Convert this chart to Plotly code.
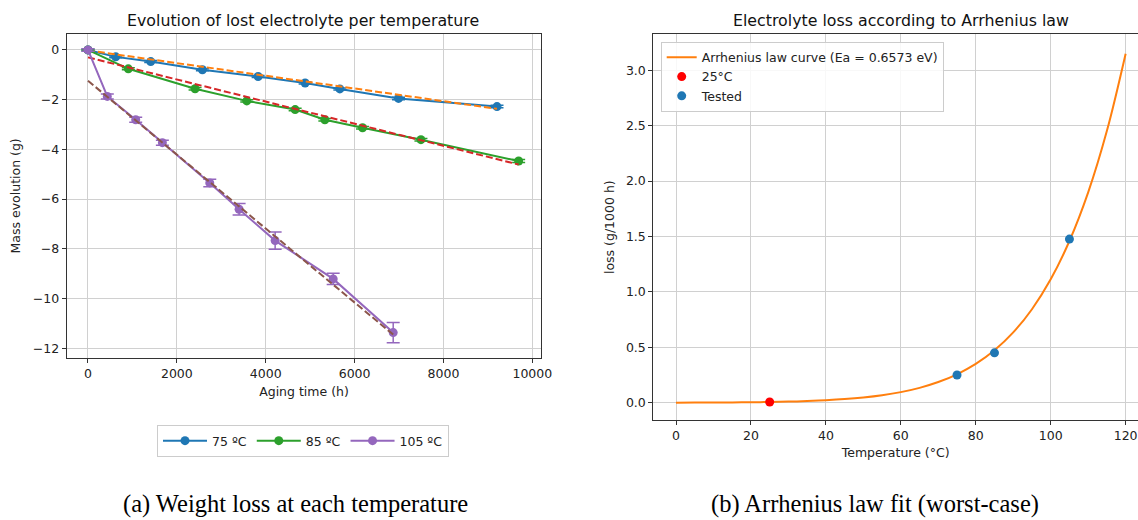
import plotly.graph_objects as go

# ---------------- data: left panel ----------------
time_75 = [0, 624, 1412, 2575, 3829, 4887, 5668, 6989, 9205]
mass_75 = [0.0, -0.28, -0.47, -0.80, -1.07, -1.33, -1.57, -1.95, -2.28]
err_75 = [0.03, 0.04, 0.04, 0.04, 0.04, 0.04, 0.04, 0.05, 0.05]

time_85 = [0, 908, 2410, 3574, 4662, 5331, 6179, 7493, 9692]
mass_85 = [0.0, -0.76, -1.56, -2.05, -2.40, -2.81, -3.13, -3.61, -4.47]
err_85 = [0.03, 0.04, 0.05, 0.05, 0.05, 0.05, 0.05, 0.05, 0.06]

time_105 = [0, 435, 1074, 1674, 2741, 3401, 4212, 5518, 6869]
mass_105 = [0.0, -1.87, -2.81, -3.73, -5.35, -6.41, -7.67, -9.21, -11.37]
err_105 = [0.05, 0.10, 0.10, 0.10, 0.15, 0.23, 0.35, 0.23, 0.41]

fit_75_x = [0, 9205]
fit_75_y = [-0.02, -2.37]
fit_85_x = [0, 9692]
fit_85_y = [-0.30, -4.61]
fit_105_x = [0, 6869]
fit_105_y = [-1.24, -11.45]

series_names = ["75 ºC", "85 ºC", "105 ºC"]
time_ticks = [0, 2000, 4000, 6000, 8000, 10000]
time_tick_labels = ["0", "2000", "4000", "6000", "8000", "10000"]
mass_ticks = [0, -2, -4, -6, -8, -10, -12]

# ---------------- data: right panel ----------------
curve_temp = [0, 5, 10, 15, 20, 25, 30, 35, 40, 45, 50, 55, 60, 65, 70,
              75, 80, 85, 90, 95, 100, 105, 110, 115, 120]
curve_loss = [0.0006, 0.0010, 0.0017, 0.0027, 0.0042, 0.0065, 0.0099, 0.0149,
              0.0222, 0.0325, 0.0471, 0.0675, 0.0957, 0.1342, 0.1865, 0.2566,
              0.3499, 0.4730, 0.6343, 0.8437, 1.1135, 1.4593, 1.8986, 2.4535,
              3.1500]
ref_temp = [25]
ref_loss = [0.0065]
tested_temp = [75, 85, 105]
tested_loss = [0.25, 0.45, 1.477]
tested_err = [0.0, 0.0, 0.0]
temp_ticks = [0, 20, 40, 60, 80, 100, 120]
loss_ticks = [0, 0.5, 1.0, 1.5, 2.0, 2.5, 3.0]

curve_label = "Arrhenius law curve (Ea = 0.6573 eV)"

# ---------------- styling ----------------
BLUE, ORANGE, GREEN, RED, PURPLE, BROWN = (
    "#1f77b4", "#ff7f0e", "#2ca02c", "#d62728", "#9467bd", "#8c564b")
FONT = "DejaVu Sans"
W, H = 1138, 520


def px_x(p):
    return p / W


def px_y(p):
    return 1 - p / H


fig = go.Figure()


def add_err_series(x, y, e, color, name):
    fig.add_trace(go.Scatter(
        x=x, y=y, mode="lines+markers", name=name,
        line=dict(color=color, width=2),
        marker=dict(color=color, size=9),
        error_y=dict(type="data", array=e, visible=True, color=color,
                     thickness=1.5, width=6.5),
        xaxis="x", yaxis="y", legend="legend"))


def add_fit(x, y, color):
    fig.add_trace(go.Scatter(
        x=x, y=y, mode="lines", showlegend=False,
        line=dict(color=color, width=2, dash="7px,3px"),
        xaxis="x", yaxis="y"))


add_err_series(time_75, mass_75, err_75, BLUE, series_names[0])
add_fit(fit_75_x, fit_75_y, ORANGE)
add_err_series(time_85, mass_85, err_85, GREEN, series_names[1])
add_fit(fit_85_x, fit_85_y, RED)
add_err_series(time_105, mass_105, err_105, PURPLE, series_names[2])
add_fit(fit_105_x, fit_105_y, BROWN)

fig.add_trace(go.Scatter(
    x=curve_temp, y=curve_loss, mode="lines", name=curve_label,
    line=dict(color=ORANGE, width=2, shape="spline"),
    xaxis="x2", yaxis="y2", legend="legend2"))
fig.add_trace(go.Scatter(
    x=ref_temp, y=ref_loss, mode="markers", name="25°C",
    marker=dict(color="#ff0000", size=9),
    xaxis="x2", yaxis="y2", legend="legend2"))
fig.add_trace(go.Scatter(
    x=tested_temp, y=tested_loss, mode="markers", name="Tested",
    marker=dict(color=BLUE, size=9),
    error_y=dict(type="data", array=tested_err, visible=True, color=BLUE,
                 thickness=1.5, width=0),
    xaxis="x2", yaxis="y2", legend="legend2"))

axis_common = dict(
    automargin=False,
    showgrid=True, gridcolor="#d0d0d0", gridwidth=1,
    showline=True, linecolor="#333333", linewidth=1,
    ticks="outside", ticklen=4, tickcolor="#333333",
    zeroline=False, tickfont=dict(size=12.5, color="#222"),
    title_font=dict(size=12.5, color="#222"),
)

fig.update_layout(
    width=W, height=H,
    margin=dict(l=0, r=0, t=0, b=0, pad=0, autoexpand=False),
    paper_bgcolor="white", plot_bgcolor="white",
    font=dict(family=FONT, color="#222"),
    xaxis=dict(domain=[px_x(66.7), px_x(541.3)], range=[-479, 10202],
               tickvals=time_ticks, ticktext=time_tick_labels,
               mirror=True, anchor="y",
               title=dict(text="Aging time (h)", standoff=7), **axis_common),
    yaxis=dict(domain=[px_y(357.7), px_y(34)], range=[-12.38, 0.64],
               tickvals=mass_ticks,
               mirror=True, anchor="x",
               title=dict(text="Mass evolution (g)", standoff=9), **axis_common),
    xaxis2=dict(domain=[px_x(653.3), 1.0], range=[-6.06, 123.3],
                tickvals=temp_ticks,
                mirror=True, anchor="y2",
                title=dict(text="Temperature (°C)", standoff=6), **axis_common),
    yaxis2=dict(domain=[px_y(420), px_y(34.3)], range=[-0.156, 3.325],
                tickvals=loss_ticks, tickformat=".1f",
                mirror=False, anchor="x2",
                title=dict(text="loss (g/1000 h)", standoff=8), **axis_common),
    legend=dict(orientation="h", x=px_x(303), xanchor="center",
                y=px_y(441), yanchor="middle",
                bgcolor="white", bordercolor="#cccccc", borderwidth=1,
                font=dict(size=12.5, color="#222"), itemwidth=44),
    legend2=dict(x=px_x(660.7), xanchor="left", y=px_y(41.7), yanchor="top",
                 bgcolor="rgba(255,255,255,0.85)", bordercolor="#cccccc",
                 borderwidth=1, font=dict(size=12.5, color="#222"),
                 tracegroupgap=0),
    annotations=[
        dict(text="Evolution of lost electrolyte per temperature",
             x=px_x(303), y=px_y(21), xref="paper", yref="paper",
             xanchor="center", yanchor="middle",
             showarrow=False, font=dict(size=15.8, color="#111")),
        dict(text="Electrolyte loss according to Arrhenius law",
             x=px_x(901), y=px_y(21), xref="paper", yref="paper",
             xanchor="center", yanchor="middle",
             showarrow=False, font=dict(size=15.8, color="#111")),
        dict(text="(a) Weight loss at each temperature",
             x=px_x(295), y=px_y(504), xref="paper", yref="paper",
             xanchor="center", yanchor="middle",
             showarrow=False,
             font=dict(family="Liberation Serif", size=24.5, color="#000")),
        dict(text="(b) Arrhenius law fit (worst-case)",
             x=px_x(875), y=px_y(504), xref="paper", yref="paper",
             xanchor="center", yanchor="middle",
             showarrow=False,
             font=dict(family="Liberation Serif", size=24.5, color="#000")),
    ],
)

fig.write_html("out.html")
